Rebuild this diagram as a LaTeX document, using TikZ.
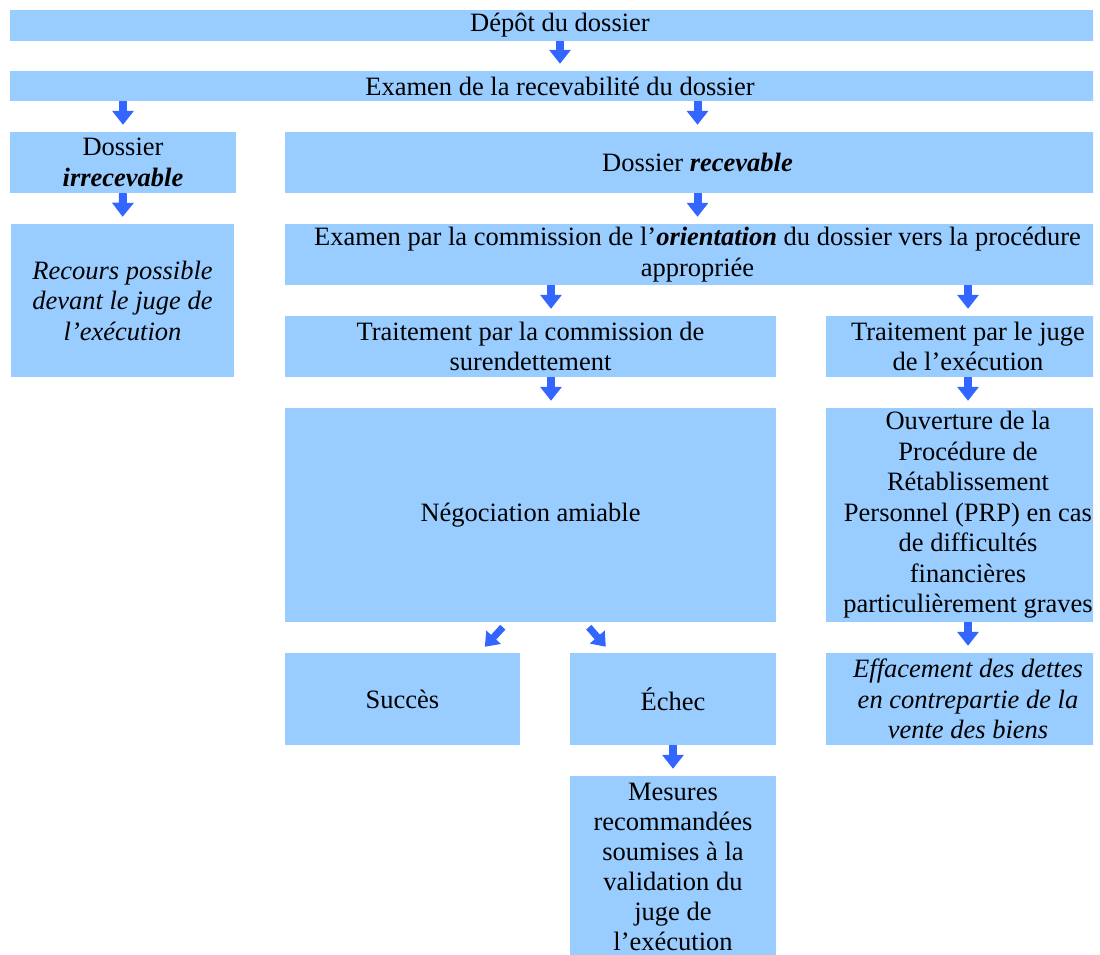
\documentclass[tikz,border=0pt]{standalone}
\usepackage{fontspec}
\setmainfont{Liberation Serif}
\usetikzlibrary{arrows.meta,calc}
\definecolor{boxblue}{HTML}{99CCFF}
\definecolor{arrowblue}{HTML}{3366FF}
\tikzset{
  box/.style={fill=boxblue, draw=none, inner sep=0pt, align=center,
    font=\fontsize{26.5pt}{30.5pt}\selectfont},
  blk/.style={draw=arrowblue, line width=8pt,
    -{Triangle[length=14pt,width=21pt]}, shorten >=7pt},
  blkd/.style={draw=arrowblue, line width=7pt,
    -{Triangle[length=13pt,width=19pt]}}
}
\begin{document}
\begin{tikzpicture}[x=1pt,y=-1pt]
\useasboundingbox (0,0) rectangle (1100,955);
\begin{scope}
\clip (0,0) rectangle (1093,955);
\node[box, minimum width=1100pt, minimum height=31pt] (dep) at (560,25.5) {Dépôt du dossier};
\node[box, minimum width=1100pt, minimum height=30pt] (exam) at (560,86) {Examen de la recevabilité du dossier};
\node[box, minimum width=226pt, minimum height=61pt] (irr) at (123,162.5) {Dossier\\\textbf{\textit{irrecevable}}};
\node[box, minimum width=825pt, minimum height=61pt] (rec) at (697.5,162.5) {Dossier \textbf{\textit{recevable}}};
\node[box, minimum width=223pt, minimum height=153pt] (recours) at (122.5,300.5) {\textit{Recours possible}\\\textit{devant le juge de}\\\textit{l’exécution}};
\node[box, minimum width=825pt, minimum height=61pt] (orient) at (697.5,254.5) {Examen par la commission de l’\textbf{\textit{orientation}} du dossier vers la procédure\\appropriée};
\node[box, minimum width=491pt, minimum height=61pt] (traitC) at (530.5,346.5) {Traitement par la commission de\\surendettement};
\node[box, minimum width=284pt, minimum height=61pt] (traitJ) at (968,346.5) {Traitement par le juge\\de l’exécution};
\node[box, minimum width=491pt, minimum height=214pt] (nego) at (530.5,515) {Négociation amiable};
\node[box, minimum width=284pt, minimum height=214pt] (ouv) at (968,515) {Ouverture de la\\Procédure de\\Rétablissement\\Personnel (PRP) en cas\\de difficultés\\financières\\particulièrement graves};
\node[box, minimum width=235pt, minimum height=92pt] (succ) at (402.5,699) {Succès};
\node[box, minimum width=206pt, minimum height=92pt] (ech) at (673,699) {Échec};
\node[box, minimum width=284pt, minimum height=92pt] (eff) at (968,699) {\textit{Effacement des dettes}\\\textit{en contrepartie de la}\\\textit{vente des biens}};
\node[box, minimum width=206pt, minimum height=181pt, font=\fontsize{26.5pt}{30pt}\selectfont] (mes) at (673,866.5) {Mesures\\recommandées\\soumises à la\\validation du\\juge de\\l’exécution};
\end{scope}
\draw[blk] (dep.south) -- (exam.north);
\draw[blk] (exam.south -| irr.north) -- (irr.north);
\draw[blk] (exam.south -| rec.north) -- (rec.north);
\draw[blk] (irr.south) -- (recours.north);
\draw[blk] (rec.south) -- (orient.north);
\draw[blk] ($(orient.south -| traitC.north)+(20.5,0)$) -- ($(traitC.north)+(20.5,0)$);
\draw[blk] (orient.south -| traitJ.north) -- (traitJ.north);
\draw[blk] ($(traitC.south)+(20.5,0)$) -- ($(nego.north)+(20.5,0)$);
\draw[blk] (traitJ.south) -- (ouv.north);
\draw[blk] (ouv.south) -- (eff.north);
\draw[blk] (ech.south) -- (mes.north);
\draw[blkd] ($(nego.south west)+(218,5)$) -- ($(succ.north west)+(200,-6)$);
\draw[blkd] ($(nego.south west)+(304,5)$) -- ($(ech.north west)+(36,-6)$);
\end{tikzpicture}
\end{document}
